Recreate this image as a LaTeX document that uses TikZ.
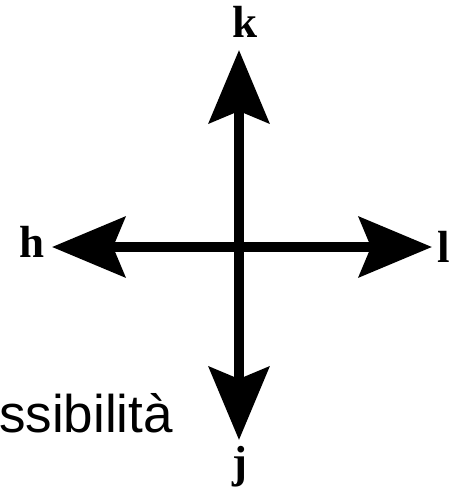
\documentclass[tikz,border=0pt]{standalone}
\usepackage{fontspec}
\setmainfont{Liberation Serif}
\newfontfamily\sansfont{Liberation Sans}
\usetikzlibrary{arrows.meta, positioning}

\begin{document}
\begin{tikzpicture}[x=1pt, y=-1pt,
    >={Stealth[length=73pt, width=60pt, inset=12pt]},
    asse/.style={line width=10pt, <->},
    lettera/.style={inner sep=0pt, font=\fontsize{45}{54}\selectfont\bfseries}]
    \useasboundingbox (0,0) rectangle (450,491);

    % 1. Centro e punte delle frecce
    \coordinate (O) at (239,247);
    \coordinate (pk) at (239,50);
    \coordinate (pj) at (239,440);
    \coordinate (ph) at (52,247);
    \coordinate (pl) at (432,247);

    % 2. Frecce
    \draw[asse] (pj) -- (pk);
    \draw[asse] (ph) -- (pl);

    % 3. Lettere sulle punte
    \node[lettera, above=12pt of pk, xshift=6pt] (k) {k};
    \node[lettera, below=6pt of pj, xshift=1pt] (j) {j};
    \node[lettera, left=7pt of ph, yshift=5pt] (h) {h};
    \node[lettera, right=5pt of pl] (l) {l};

    % 4. Testo in basso a sinistra
    \node[font=\sansfont\fontsize{53}{60}\selectfont, anchor=base west, inner sep=0pt]
        (testo) at (-1,432) {ssibilità};
\end{tikzpicture}
\end{document}
